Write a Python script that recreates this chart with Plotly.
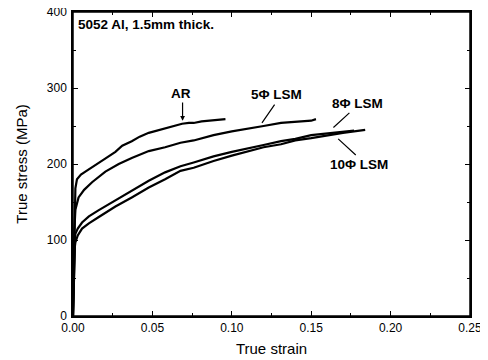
import plotly.graph_objects as go

ar_strain = [0, 0.0008, 0.0015, 0.0025, 0.005, 0.0078, 0.012, 0.016, 0.021, 0.0267, 0.031, 0.037,
             0.042, 0.0477, 0.053, 0.058, 0.063, 0.0687, 0.073, 0.076, 0.081, 0.086, 0.091, 0.096]
ar_stress = [0, 130, 168, 180, 186, 190, 196, 202, 208, 216, 224, 230,
             236, 241, 244, 247, 250, 253, 254, 254, 256, 257, 258, 259]

lsm5_strain = [0, 0.0008, 0.0015, 0.0025, 0.0035, 0.007, 0.012, 0.0204, 0.0288, 0.037, 0.0477,
               0.058, 0.0677, 0.076, 0.0885, 0.1, 0.11, 0.12, 0.131, 0.14, 0.15, 0.153]
lsm5_stress = [0, 110, 140, 148, 156, 166, 176, 190, 200, 208, 217,
               222, 228, 231, 238, 243, 247, 250, 254, 255, 257, 259]

lsm8_strain = [0, 0.0006, 0.0012, 0.0015, 0.003, 0.0057, 0.01, 0.016, 0.0267, 0.037, 0.0477, 0.058,
               0.0677, 0.076, 0.0885, 0.1, 0.11, 0.12, 0.131, 0.14, 0.15, 0.16, 0.17, 0.177]
lsm8_stress = [0, 80, 102, 108, 115, 123, 131, 139, 152, 165, 178, 189,
               197, 202, 210, 216, 221, 225, 230, 233, 238, 240, 242, 244]

lsm10_strain = [0, 0.0006, 0.0012, 0.0015, 0.003, 0.0057, 0.01, 0.016, 0.0267, 0.037, 0.0477, 0.058,
                0.0677, 0.076, 0.0885, 0.1, 0.11, 0.12, 0.131, 0.14, 0.15, 0.16, 0.17, 0.184]
lsm10_stress = [0, 70, 92, 97, 106, 115, 122, 130, 144, 156, 169, 180,
                191, 195, 204, 211, 217, 222, 226, 231, 234, 238, 241, 245]

series = [
    ("AR", ar_strain, ar_stress),
    ("5Φ LSM", lsm5_strain, lsm5_stress),
    ("8Φ LSM", lsm8_strain, lsm8_stress),
    ("10Φ LSM", lsm10_strain, lsm10_stress),
]

FONT = "Liberation Sans, Arial, sans-serif"

fig = go.Figure()
for name, xs, ys in series:
    fig.add_trace(go.Scatter(x=xs, y=ys, mode="lines", name=name,
                             line=dict(color="black", width=2.2), showlegend=False))

axis_common = dict(
    showline=True, linecolor="black", linewidth=1.5, mirror="ticks",
    ticks="inside", ticklen=5, tickwidth=1, tickcolor="black",
    showgrid=False, zeroline=False, automargin=False,
    ticklabeloverflow="allow",
    tickfont=dict(family=FONT, size=12, color="black"),
)

fig.update_xaxes(range=[0, 0.25], dtick=0.05, tickformat=".2f",
                 minor=dict(dtick=0.025, ticks="inside", ticklen=3, tickcolor="black"),
                 title=dict(text="True strain", font=dict(family=FONT, size=15, color="black"), standoff=9),
                 **axis_common)
fig.update_yaxes(range=[0, 400], dtick=100, ticklabelstandoff=2,
                 minor=dict(dtick=50, ticks="inside", ticklen=3, tickcolor="black"),
                 title=dict(text="True stress (MPa)", font=dict(family=FONT, size=15, color="black"), standoff=16),
                 **axis_common)

bold = dict(family=FONT, size=13.5, color="black")
annotations = [
    dict(x=0.002, y=383, xref="x", yref="y", text="<b>5052 Al, 1.5mm thick.</b>",
         showarrow=False, xanchor="left", yanchor="middle", font=bold),
    dict(x=0.0677, y=293, xref="x", yref="y", text="<b>AR</b>", showarrow=False, font=bold),
    dict(x=0.128, y=292, xref="x", yref="y", text="<b>5Φ LSM</b>", showarrow=False, font=bold),
    dict(x=0.179, y=280, xref="x", yref="y", text="<b>8Φ LSM</b>", showarrow=False, font=bold),
    dict(x=0.180, y=199, xref="x", yref="y", text="<b>10Φ LSM</b>", showarrow=False, font=bold),
    # arrows
    dict(x=0.069, y=257, ax=0.069, ay=283, xref="x", yref="y", axref="x", ayref="y", text="",
         showarrow=True, arrowhead=2, arrowsize=0.8, arrowwidth=1.2, arrowcolor="black"),
    dict(x=0.119, y=254, ax=0.1276, ay=280, xref="x", yref="y", axref="x", ayref="y", text="",
         showarrow=True, arrowhead=0, arrowwidth=1.2, arrowcolor="black"),
    dict(x=0.164, y=248, ax=0.175, ay=269, xref="x", yref="y", axref="x", ayref="y", text="",
         showarrow=True, arrowhead=0, arrowwidth=1.2, arrowcolor="black"),
    dict(x=0.167, y=233, ax=0.179, ay=210, xref="x", yref="y", axref="x", ayref="y", text="",
         showarrow=True, arrowhead=0, arrowwidth=1.2, arrowcolor="black"),
]

# frame around the plotting area
frame = dict(type="rect", xref="paper", yref="paper", x0=0, y0=0, x1=1, y1=1,
             line=dict(color="black", width=1.5), layer="above")

# the page adds an 8px body margin, so the figure is sized/margined to compensate
fig.update_layout(
    width=480, height=352,
    margin=dict(l=65, r=18, t=4, b=44),
    plot_bgcolor="white", paper_bgcolor="white",
    annotations=annotations,
    shapes=[frame],
    font=dict(family=FONT, color="black"),
)

fig.write_html("out.html")
